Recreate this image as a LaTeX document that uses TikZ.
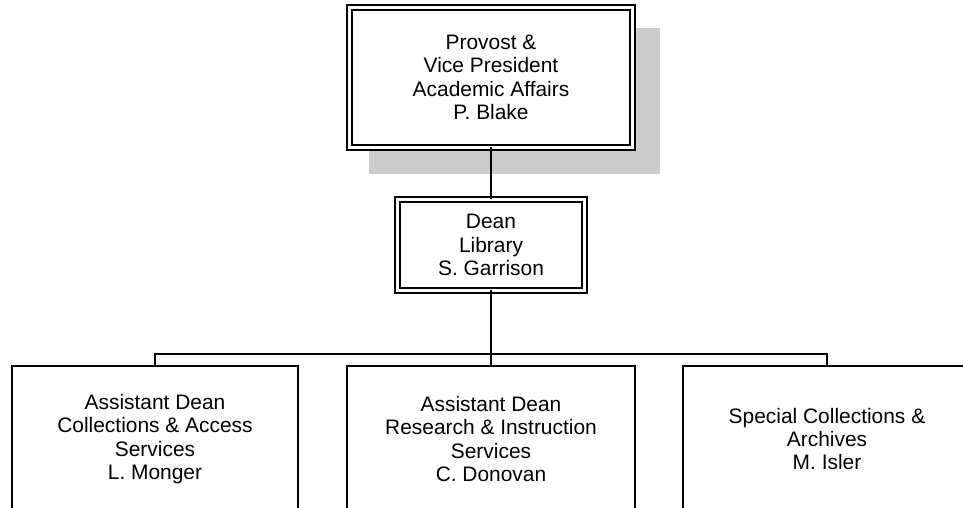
\documentclass[tikz,border=0pt]{standalone}
\usepackage{fontspec}
\setmainfont{Liberation Sans}
\begin{document}
\begin{tikzpicture}[x=1bp,y=-1bp,
  txt/.style={align=center,font=\fontsize{21}{23.5}\selectfont,inner sep=0pt,outer sep=0pt},
  dbox/.style={txt,draw=black,line width=1.75bp,double=white,double distance=3bp,fill=white},
  sbox/.style={txt,draw=black,line width=2bp,fill=white},
  conn/.style={line width=2bp,black}]
\useasboundingbox (0,0) rectangle (963,508);
\clip (0,0) rectangle (963,508);
% shadow
\fill[black!20] (369,28) rectangle (660,174);
% nodes
\node[dbox,minimum width=283bp,minimum height=140bp] (top) at (491,77.5)
  {Provost \&\\Vice President\\Academic Affairs\\P. Blake};
\node[dbox,minimum width=187bp,minimum height=91bp] (dean) at (491,245)
  {Dean\\Library\\S. Garrison};
\node[sbox,minimum width=286bp,minimum height=146bp] (b1) at (155,439)
  {Assistant Dean\\Collections \& Access\\Services\\L. Monger};
\node[sbox,minimum width=288bp,minimum height=146bp] (b2) at (491,439)
  {Assistant Dean\\Research \& Instruction\\Services\\C. Donovan};
\node[sbox,minimum width=288bp,minimum height=146bp] (b3) at (827,439)
  {Special Collections \&\\Archives\\M. Isler};
\coordinate (bus) at (491,354);
% connectors
\draw[conn] (top.south) -- (dean.north);
\draw[conn] (dean.south) -- (b2.north);
\draw[conn] (b1.north) |- (bus) -| (b3.north);
\end{tikzpicture}
\end{document}
